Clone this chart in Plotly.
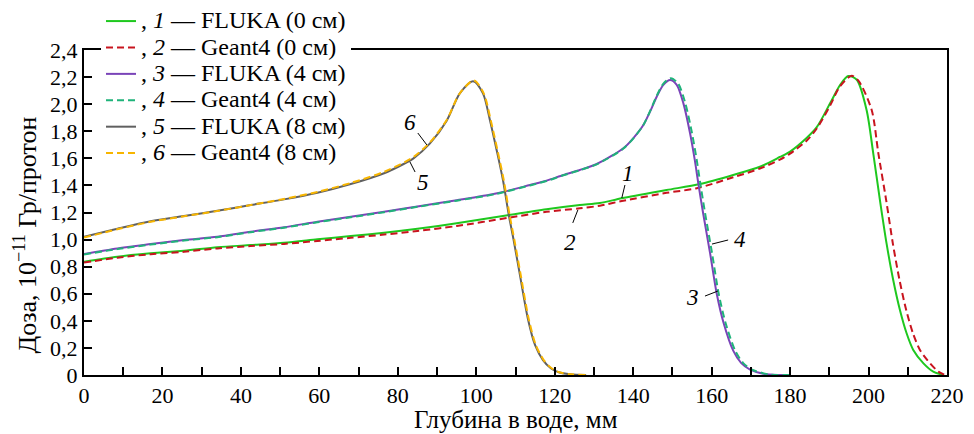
import plotly.graph_objects as go

# ---------------- data ----------------
# 1: FLUKA (0 cm)
x1 = [0, 8.5, 17, 25.5, 34, 42.5, 51, 59.5, 68, 76.5, 85, 95, 108, 117.9, 126.4, 131.5, 137.1,
      148.5, 157, 165.5, 172.3, 177.4, 180, 184.2, 186.8, 190.2, 192.7, 194.8, 197, 199.5, 201.2,
      202.9, 204.6, 206.3, 208, 209.7, 211.4, 214, 216.5, 219]
y1 = [0.837, 0.874, 0.899, 0.918, 0.943, 0.960, 0.977, 1.002, 1.026, 1.051, 1.080, 1.120, 1.180,
      1.224, 1.255, 1.270, 1.305, 1.366, 1.410, 1.477, 1.538, 1.610, 1.650, 1.750, 1.830, 2.006,
      2.140, 2.208, 2.180, 1.957, 1.637, 1.292, 0.970, 0.700, 0.480, 0.308, 0.185, 0.086, 0.025,
      0.0]
# 2: Geant4 (0 cm)
x2 = [0, 8.5, 17, 25.5, 34, 42.5, 51, 59.5, 68, 76.5, 85, 95, 108, 117.9, 126.4, 131.5, 137.1,
      148.5, 156.2, 165.5, 172.3, 177.4, 180, 184.2, 186.8, 190.2, 192.7, 195.7, 197.5, 200.8,
      202.5, 204.5, 206.2, 207.9, 209.6, 211.3, 213.1, 215.7, 217.8, 219.5]
y2 = [0.830, 0.866, 0.892, 0.910, 0.935, 0.952, 0.968, 0.990, 1.013, 1.037, 1.064, 1.100, 1.160,
      1.205, 1.231, 1.250, 1.285, 1.345, 1.379, 1.460, 1.525, 1.590, 1.635, 1.730, 1.820, 1.990,
      2.130, 2.210, 2.170, 1.957, 1.637, 1.290, 0.970, 0.700, 0.480, 0.310, 0.185, 0.086, 0.025,
      0.0]
# 3: FLUKA (4 cm)
x3 = [0, 8.5, 17, 25.5, 34, 42.5, 51, 59.5, 68, 76.5, 85, 95, 105, 113.7, 117.9, 122.2, 126.4,
      130.7, 134.9, 137.5, 140, 142.6, 144.3, 146, 147.7, 149.4, 151.1, 152.8, 154.5, 155.7,
      156.6, 157.8, 159.6, 161.3, 163, 165.5, 167.5, 169.8, 174, 180]
y3 = [0.894, 0.935, 0.967, 0.997, 1.021, 1.058, 1.091, 1.132, 1.169, 1.206, 1.245, 1.290, 1.340,
      1.403, 1.435, 1.477, 1.514, 1.558, 1.625, 1.674, 1.748, 1.846, 1.945, 2.055, 2.142, 2.178,
      2.142, 2.006, 1.785, 1.588, 1.416, 1.200, 0.900, 0.600, 0.390, 0.180, 0.090, 0.040, 0.005,
      0.0]
# 4: Geant4 (4 cm)
x4 = [0, 8.5, 17, 25.5, 34, 42.5, 51, 59.5, 68, 76.5, 85, 95, 105, 113.7, 117.9, 122.2, 126.4,
      130.7, 134.9, 137.5, 140, 142.6, 144.3, 146, 147.7, 149.6, 151.5, 153.3, 155, 156.2,
      157.1, 158.3, 160.1, 161.8, 163.5, 166, 168, 170.3, 174.5, 180]
y4 = [0.890, 0.930, 0.963, 0.993, 1.018, 1.055, 1.088, 1.128, 1.165, 1.202, 1.242, 1.287, 1.337,
      1.400, 1.432, 1.475, 1.512, 1.556, 1.622, 1.672, 1.746, 1.846, 1.948, 2.062, 2.152, 2.192,
      2.150, 2.006, 1.785, 1.588, 1.416, 1.200, 0.900, 0.600, 0.390, 0.180, 0.090, 0.040, 0.005,
      0.0]
# 5: FLUKA (8 cm)
x5 = [0, 8.5, 17, 25.5, 34, 42.5, 51, 59.5, 68, 76.5, 81.6, 84, 88.2, 92.5, 95.8, 99.2, 101.7,
      103.5, 105.2, 106.8, 108.3, 109.5, 111, 113.2, 115, 117, 119, 121, 124, 128]
y5 = [1.021, 1.080, 1.135, 1.174, 1.213, 1.255, 1.297, 1.346, 1.410, 1.490, 1.560, 1.600, 1.710,
      1.880, 2.080, 2.170, 2.080, 1.880, 1.660, 1.440, 1.180, 1.000, 0.760, 0.410, 0.220, 0.110,
      0.050, 0.020, 0.005, 0.0]
# 6: Geant4 (8 cm)
x6 = [0, 8.5, 17, 25.5, 34, 42.5, 51, 59.5, 68, 76.5, 81.6, 84, 88.2, 92.5, 95.8, 99.4, 101.9,
      103.7, 105.4, 107, 108.5, 109.7, 111.2, 113.4, 115.2, 117.2, 119.2, 121.2, 124.2, 128]
y6 = [1.015, 1.076, 1.131, 1.172, 1.211, 1.255, 1.300, 1.352, 1.418, 1.500, 1.570, 1.610, 1.718,
      1.885, 2.080, 2.175, 2.080, 1.880, 1.660, 1.440, 1.180, 1.000, 0.760, 0.410, 0.220, 0.110,
      0.050, 0.020, 0.005, 0.0]

series_names = [
    ", <i>1</i> — FLUKA (0 см)",
    ", <i>2</i> — Geant4 (0 см)",
    ", <i>3</i> — FLUKA (4 см)",
    ", <i>4</i> — Geant4 (4 см)",
    ", <i>5</i> — FLUKA (8 см)",
    ", <i>6</i> — Geant4 (8 см)",
]

x_tickvals = [0, 20, 40, 60, 80, 100, 120, 140, 160, 180, 200, 220]
x_ticktext = ["0", "20", "40", "60", "80", "100", "120", "140", "160", "180", "200", "220"]
y_tickvals = [0, 0.2, 0.4, 0.6, 0.8, 1.0, 1.2, 1.4, 1.6, 1.8, 2.0, 2.2, 2.4]
y_ticktext = ["0", "0,2", "0,4", "0,6", "0,8", "1,0", "1,2", "1,4", "1,6", "1,8", "2,0", "2,2", "2,4"]

x_title = "Глубина в воде, мм"
y_title = "Доза, 10<sup>−11</sup> Гр/протон"
curve_labels = ["1", "2", "3", "4", "5", "6"]

# ---------------- styles ----------------
FONT = "Liberation Serif"
colors = ["#1ec81e", "#c8141e", "#7a44b8", "#1fb37a", "#606060", "#f7b500"]
dashes = ["solid", "7px,4px", "solid", "7px,4px", "solid", "7px,4px"]
xs = [x1, x2, x3, x4, x5, x6]
ys = [y1, y2, y3, y4, y5, y6]

fig = go.Figure()
for xv, yv, nm, c, d in zip(xs, ys, series_names, colors, dashes):
    fig.add_trace(go.Scatter(
        x=xv, y=yv, mode="lines", name='<span style="font-size:24px">' + nm + "</span>",
        line=dict(color=c, width=2, dash=d, shape="spline", smoothing=0.8),
    ))

# label positions (text) and leader lines, in data coordinates
label_pos = [(138.7, 1.49), (123.9, 0.982), (155.2, 0.569), (167.2, 0.997), (86.4, 1.418), (83.1, 1.861)]
leaders = [((137.9, 1.403), (137.1, 1.307)),
           ((124.6, 1.123), (125.9, 1.219)),
           ((158.3, 0.583), (161.6, 0.620)),
           ((164.2, 0.997), (160.1, 0.967)),
           ((84.4, 1.499), (83.1, 1.573)),
           ((85.1, 1.787), (87.4, 1.699))]

for lab, (tx, ty) in zip(curve_labels, label_pos):
    fig.add_annotation(x=tx, y=ty, text="<i>" + lab + "</i>", showarrow=False,
                       font=dict(family=FONT, size=23, color="black"))
for (a, b) in leaders:
    fig.add_shape(type="line", x0=a[0], y0=a[1], x1=b[0], y1=b[1],
                  line=dict(color="black", width=1))

# axis titles as text placed in paper coordinates
fig.add_annotation(xref="paper", yref="paper", x=-0.068, y=0.43, text=y_title,
                   textangle=-90, showarrow=False, xanchor="center", yanchor="middle",
                   font=dict(family=FONT, size=26, color="black"))
fig.add_annotation(xref="paper", yref="paper", x=0.5, y=-0.138, text=x_title,
                   showarrow=False, xanchor="center", yanchor="middle",
                   font=dict(family=FONT, size=25, color="black"))

fig.update_layout(
    width=974, height=434,
    margin=dict(l=84, r=27, t=50, b=59, autoexpand=False),
    paper_bgcolor="white", plot_bgcolor="white",
    font=dict(family=FONT, size=22, color="black"),
    showlegend=True,
    legend=dict(x=0.0197, y=1.145, xanchor="left", yanchor="top",
                bgcolor="white", borderwidth=0,
                font=dict(family=FONT, size=18, color="black"),
                itemwidth=30, tracegroupgap=0),
)
fig.update_xaxes(
    range=[0, 220], tickvals=x_tickvals, ticktext=x_ticktext,
    ticks="inside", ticklen=8, tickwidth=1.5, tickcolor="black",
    minor=dict(dtick=10, tick0=0, ticks="inside", ticklen=8, tickwidth=1.5, tickcolor="black"),
    showline=True, linecolor="black", linewidth=2, mirror=True,
    showgrid=False, zeroline=False, automargin=False,
    tickfont=dict(family=FONT, size=22),
)
fig.update_yaxes(
    range=[0, 2.4], tickvals=y_tickvals, ticktext=y_ticktext,
    ticks="inside", ticklen=8, tickwidth=1.5, tickcolor="black",
    showline=True, linecolor="black", linewidth=2, mirror=True,
    showgrid=False, zeroline=False, automargin=False,
    tickfont=dict(family=FONT, size=22),
)

# remove the page's default body margin so the figure fills the window exactly
fig.write_html("out.html", config={"displayModeBar": False},
               post_script="document.body.style.margin='0';")
